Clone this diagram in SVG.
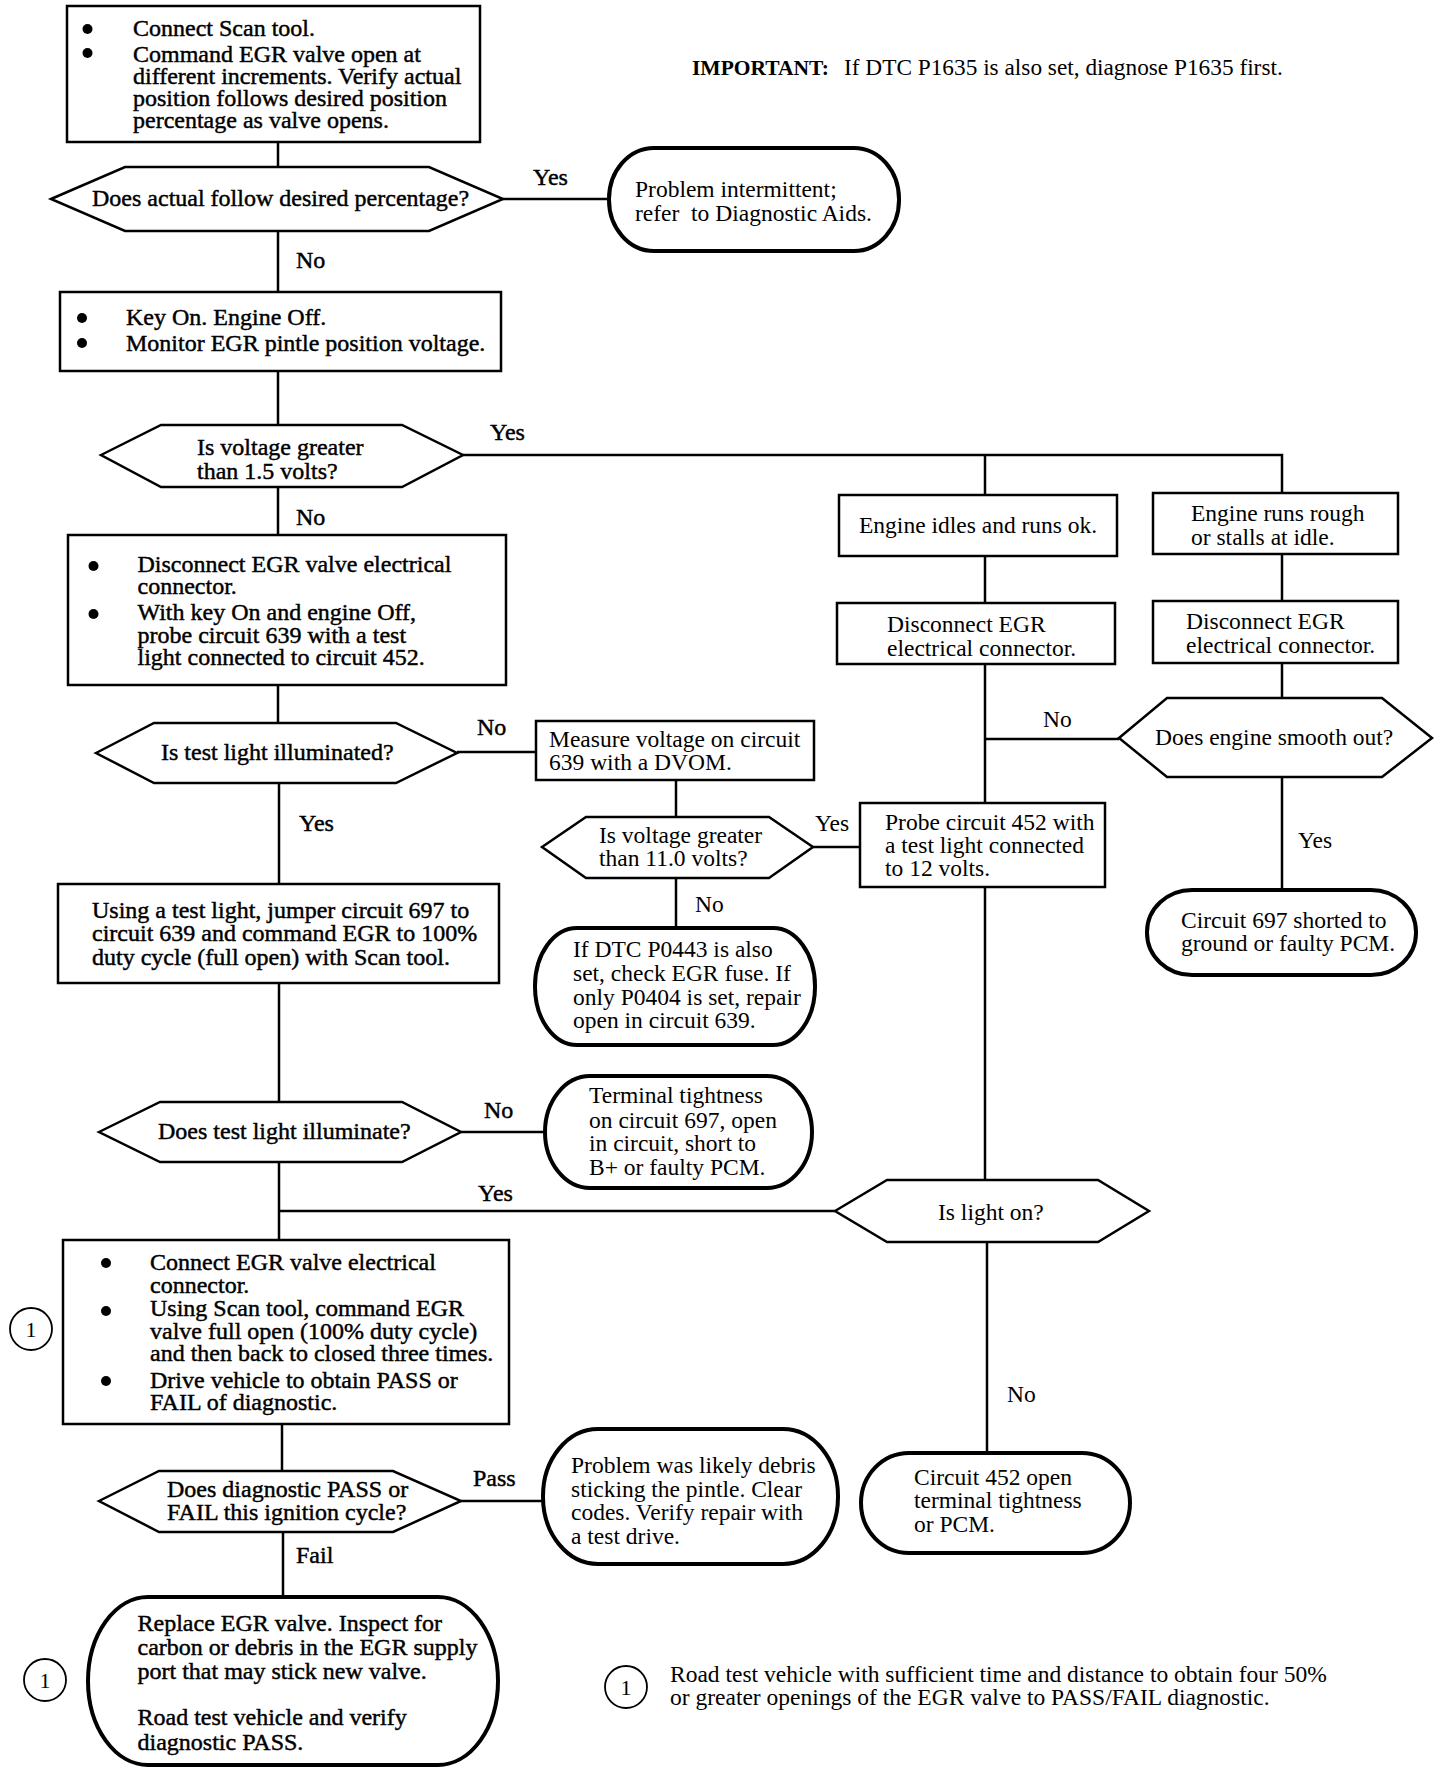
<svg xmlns="http://www.w3.org/2000/svg" width="1440" height="1774" viewBox="0 0 1440 1774">
<style>
.box{fill:#fff;stroke:#000;stroke-width:2.5}
.hex{fill:#fff;stroke:#000;stroke-width:2.5;stroke-linejoin:miter}
.term{fill:#fff;stroke:#000;stroke-width:4}
.ln{fill:none;stroke:#000;stroke-width:2.5}
.circ{fill:#fff;stroke:#000;stroke-width:1.8}
.t{font-family:"Liberation Serif","Times New Roman",serif;font-size:24px;fill:#000}
.hv{stroke:#000;stroke-width:0.45}
.r{font-size:23.5px}
.num{font-size:22px;text-anchor:middle}
.dot{fill:#000}
</style>
<rect width="1440" height="1774" fill="#fff"/>
<g id="connectors">
<path class="ln" d="M278 142V167M278 231V292M278 371V426M278 487V535M278 685V723"/>
<path class="ln" d="M279 783V884M279 983V1102M279 1162V1240M282 1424V1471M283 1532V1597"/>
<path class="ln" d="M503 199H609"/>
<path class="ln" d="M463 455H1282V493M985 455V495M985 556V603M985 664V803M985 887V1180"/>
<path class="ln" d="M1282 554V601M1282 663V698M1282 777V890"/>
<path class="ln" d="M985 739H1119"/>
<path class="ln" d="M457 752H536"/>
<path class="ln" d="M676 780V817M676 878V928"/>
<path class="ln" d="M813 847H860"/>
<path class="ln" d="M461 1132H545"/>
<path class="ln" d="M279 1211H835"/>
<path class="ln" d="M987 1242V1453"/>
<path class="ln" d="M461 1501H543"/>
<g class="t hv">
<text x="533" y="185">Yes</text>
<text x="296" y="268">No</text>
<text x="490" y="440">Yes</text>
<text x="296" y="525">No</text>
<text x="477" y="735">No</text>
<text x="299" y="831">Yes</text>
<text x="484" y="1118">No</text>
<text x="478" y="1201">Yes</text>
<text x="473" y="1486">Pass</text>
<text x="296" y="1563">Fail</text>
</g>
<g class="t r">
<text x="815" y="831">Yes</text>
<text x="695" y="912">No</text>
<text x="1043" y="727">No</text>
<text x="1298" y="848">Yes</text>
<text x="1007" y="1402">No</text>
</g>
</g>
<g id="important">
<text class="t" x="692" y="75"><tspan style="font-weight:bold;font-size:21.5px">IMPORTANT:</tspan><tspan x="844" style="font-size:23.3px">If DTC P1635 is also set, diagnose P1635 first.</tspan></text>
</g>
<g id="n1">
<rect class="box" x="67" y="6" width="413" height="136"/>
<circle class="dot" cx="87.5" cy="29" r="5"/><circle class="dot" cx="87.5" cy="53" r="5"/>
<text class="t hv"><tspan x="133" y="36">Connect Scan tool.</tspan><tspan x="133" y="62">Command EGR valve open at</tspan><tspan x="133" y="84">different increments. Verify actual</tspan><tspan x="133" y="106">position follows desired position</tspan><tspan x="133" y="128">percentage as valve opens.</tspan></text>
</g>
<g id="d1">
<polygon class="hex" points="51,199 125,167 429,167 503,199 429,231 125,231"/>
<text class="t hv" x="92" y="206">Does actual follow desired percentage?</text>
</g>
<g id="t1">
<rect class="term" x="609" y="148" width="290" height="103" rx="45" ry="51"/>
<text class="t r" xml:space="preserve"><tspan x="635" y="197">Problem intermittent;</tspan><tspan x="635" y="221">refer  to Diagnostic Aids.</tspan></text>
</g>
<g id="n2">
<rect class="box" x="60" y="292" width="441" height="79"/>
<circle class="dot" cx="82" cy="318" r="5"/><circle class="dot" cx="82" cy="343" r="5"/>
<text class="t hv"><tspan x="126" y="325">Key On. Engine Off.</tspan><tspan x="126" y="351">Monitor EGR pintle position voltage.</tspan></text>
</g>
<g id="d2">
<polygon class="hex" points="101,455 161,425 402,425 463,455 402,487 161,487"/>
<text class="t hv"><tspan x="197" y="455">Is voltage greater</tspan><tspan x="197" y="479">than 1.5 volts?</tspan></text>
</g>
<g id="n7">
<rect class="box" x="839" y="495" width="278" height="61"/>
<text class="t r" x="859" y="533">Engine idles and runs ok.</text>
</g>
<g id="n8">
<rect class="box" x="1153" y="493" width="245" height="61"/>
<text class="t r"><tspan x="1191" y="521">Engine runs rough</tspan><tspan x="1191" y="545">or stalls at idle.</tspan></text>
</g>
<g id="n9">
<rect class="box" x="837" y="603" width="278" height="61"/>
<text class="t r"><tspan x="887" y="632">Disconnect EGR</tspan><tspan x="887" y="656">electrical connector.</tspan></text>
</g>
<g id="n10">
<rect class="box" x="1153" y="601" width="245" height="62"/>
<text class="t r"><tspan x="1186" y="629">Disconnect EGR</tspan><tspan x="1186" y="653">electrical connector.</tspan></text>
</g>
<g id="d6">
<polygon class="hex" points="1119,738 1167,698 1382,698 1432,738 1382,777 1167,777"/>
<text class="t r" x="1155" y="745">Does engine smooth out?</text>
</g>
<g id="t4">
<rect class="term" x="1147" y="890" width="269" height="85" rx="45" ry="42"/>
<text class="t r"><tspan x="1181" y="928">Circuit 697 shorted to</tspan><tspan x="1181" y="951">ground or faulty PCM.</tspan></text>
</g>
<g id="n3">
<rect class="box" x="68" y="535" width="438" height="150"/>
<circle class="dot" cx="93.5" cy="566" r="5"/><circle class="dot" cx="93.5" cy="614" r="5"/>
<text class="t hv"><tspan x="137.5" y="572">Disconnect EGR valve electrical</tspan><tspan x="137.5" y="594">connector.</tspan><tspan x="137.5" y="620">With key On and engine Off,</tspan><tspan x="137.5" y="643">probe circuit 639 with a test</tspan><tspan x="137.5" y="665">light connected to circuit 452.</tspan></text>
</g>
<g id="d3">
<polygon class="hex" points="96,753 154,723 396,723 457,753 396,783 154,783"/>
<text class="t hv" x="161" y="760">Is test light illuminated?</text>
</g>
<g id="n4">
<rect class="box" x="536" y="721" width="278" height="59"/>
<text class="t r"><tspan x="549" y="747">Measure voltage on circuit</tspan><tspan x="549" y="770">639 with a DVOM.</tspan></text>
</g>
<g id="d4">
<polygon class="hex" points="542,847 586,817 769,817 813,847 769,878 586,878"/>
<text class="t r"><tspan x="599" y="843">Is voltage greater</tspan><tspan x="599" y="866">than 11.0 volts?</tspan></text>
</g>
<g id="n5">
<rect class="box" x="860" y="803" width="245" height="84"/>
<text class="t r"><tspan x="885" y="830">Probe circuit 452 with</tspan><tspan x="885" y="853">a test light connected</tspan><tspan x="885" y="876">to 12 volts.</tspan></text>
</g>
<g id="t2">
<rect class="term" x="535" y="928" width="280" height="117" rx="42" ry="58"/>
<text class="t r"><tspan x="573" y="957">If DTC P0443 is also</tspan><tspan x="573" y="981">set, check EGR fuse. If</tspan><tspan x="573" y="1005">only P0404 is set, repair</tspan><tspan x="573" y="1028">open in circuit 639.</tspan></text>
</g>
<g id="n6">
<rect class="box" x="58" y="884" width="441" height="99"/>
<text class="t hv"><tspan x="92" y="918">Using a test light, jumper circuit 697 to</tspan><tspan x="92" y="941">circuit 639 and command EGR to 100%</tspan><tspan x="92" y="965">duty cycle (full open) with Scan tool.</tspan></text>
</g>
<g id="d5">
<polygon class="hex" points="99,1132 160,1102 402,1102 461,1132 402,1162 160,1162"/>
<text class="t hv" x="158" y="1139">Does test light illuminate?</text>
</g>
<g id="t3">
<rect class="term" x="545" y="1076" width="267" height="112" rx="45" ry="56"/>
<text class="t r"><tspan x="589" y="1103">Terminal tightness</tspan><tspan x="589" y="1128">on circuit 697, open</tspan><tspan x="589" y="1151">in circuit, short to</tspan><tspan x="589" y="1175">B+ or faulty PCM.</tspan></text>
</g>
<g id="d7">
<polygon class="hex" points="835,1211 887,1180 1098,1180 1149,1211 1098,1242 887,1242"/>
<text class="t r" x="938" y="1220">Is light on?</text>
</g>
<g id="t5">
<rect class="term" x="861" y="1453" width="269" height="100" rx="48" ry="50"/>
<text class="t r"><tspan x="914" y="1485">Circuit 452 open</tspan><tspan x="914" y="1508">terminal tightness</tspan><tspan x="914" y="1532">or PCM.</tspan></text>
</g>
<g id="n11">
<rect class="box" x="63" y="1240" width="446" height="184"/>
<circle class="dot" cx="106" cy="1263" r="5"/><circle class="dot" cx="106" cy="1311" r="5"/><circle class="dot" cx="106" cy="1381" r="5"/>
<text class="t hv"><tspan x="150" y="1270">Connect EGR valve electrical</tspan><tspan x="150" y="1293">connector.</tspan><tspan x="150" y="1316">Using Scan tool, command EGR</tspan><tspan x="150" y="1339">valve full open (100% duty cycle)</tspan><tspan x="150" y="1361">and then back to closed three times.</tspan><tspan x="150" y="1388">Drive vehicle to obtain PASS or</tspan><tspan x="150" y="1410">FAIL of diagnostic.</tspan></text>
</g>
<g id="c1">
<circle class="circ" cx="31" cy="1329" r="21"/>
<text class="t num" x="31" y="1337">1</text>
</g>
<g id="d8">
<polygon class="hex" points="99,1501 159,1471 393,1471 461,1501 393,1532 159,1532"/>
<text class="t hv"><tspan x="167" y="1497">Does diagnostic PASS or</tspan><tspan x="167" y="1520">FAIL this ignition cycle?</tspan></text>
</g>
<g id="t6">
<rect class="term" x="543" y="1429" width="295" height="135" rx="55" ry="67"/>
<text class="t r"><tspan x="571" y="1473">Problem was likely debris</tspan><tspan x="571" y="1497">sticking the pintle. Clear</tspan><tspan x="571" y="1520">codes. Verify repair with</tspan><tspan x="571" y="1544">a test drive.</tspan></text>
</g>
<g id="t7">
<rect class="term" x="88" y="1597" width="410" height="168" rx="60" ry="84"/>
<text class="t hv"><tspan x="137.5" y="1631">Replace EGR valve. Inspect for</tspan><tspan x="137.5" y="1655">carbon or debris in the EGR supply</tspan><tspan x="137.5" y="1679">port that may stick new valve.</tspan><tspan x="137.5" y="1725">Road test vehicle and verify</tspan><tspan x="137.5" y="1750">diagnostic PASS.</tspan></text>
</g>
<g id="c2">
<circle class="circ" cx="45" cy="1680" r="21"/>
<text class="t num" x="45" y="1688">1</text>
</g>
<g id="footnote">
<circle class="circ" cx="626" cy="1687" r="21"/>
<text class="t num" x="626" y="1695">1</text>
<text class="t r"><tspan x="670" y="1682">Road test vehicle with sufficient time and distance to obtain four 50%</tspan><tspan x="670" y="1705">or greater openings of the EGR valve to PASS/FAIL diagnostic.</tspan></text>
</g>
</svg>
